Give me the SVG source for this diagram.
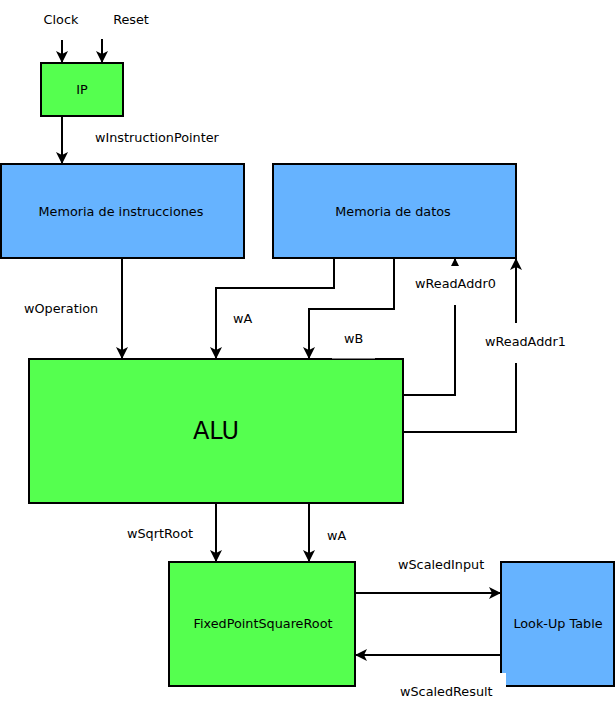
<svg xmlns="http://www.w3.org/2000/svg" width="615" height="712" viewBox="0 0 615 712">
<defs>
<marker id="ah" viewBox="0 0 12 12" refX="11" refY="6" markerWidth="12" markerHeight="12" markerUnits="userSpaceOnUse" orient="auto">
<path d="M0,0 L12,6 L0,12 L3,6 Z" fill="#000"/>
</marker>
</defs>
<style>
text{font-family:"DejaVu Sans","Liberation Sans",sans-serif;font-size:12.8px;fill:#000}
.c{text-anchor:middle}
.g{fill:#55ff4f;stroke:#000;stroke-width:2}
.b{fill:#66b3ff;stroke:#000;stroke-width:2}
.w{fill:none;stroke:#000;stroke-width:2;marker-end:url(#ah)}
.bg{fill:#fff;stroke:none}
</style>
<rect width="615" height="712" fill="#fff"/>
<g id="nodes">
<g id="ip"><rect class="g" x="41" y="63" width="82" height="53"/><text class="c" x="82" y="94">IP</text></g>
<g id="meminst"><rect class="b" x="1" y="164" width="243" height="94"/><text class="c" x="121" y="216">Memoria de instrucciones</text></g>
<g id="memdat"><rect class="b" x="273" y="164" width="243" height="94"/><text class="c" x="393" y="216">Memoria de datos</text></g>
<g id="alu"><rect class="g" x="29" y="359" width="374" height="144"/><text class="c" x="216" y="439" style="font-size:24px">ALU</text></g>
<g id="fpsr"><rect class="g" x="169" y="562" width="186" height="124"/><text class="c" x="263" y="628">FixedPointSquareRoot</text></g>
<g id="lut"><rect class="b" x="501" y="562" width="113" height="124"/><text class="c" x="558" y="628">Look-Up Table</text></g>
</g>
<g id="connectors">
<path class="w" d="M62,40 V62"/>
<path class="w" d="M102,39 V62"/>
<path class="w" d="M62,116 V163"/>
<path class="w" d="M122,258 V358"/>
<path class="w" d="M334,258 V288 H216 V358"/>
<path class="w" d="M394,258 V309 H309 V358"/>
<path class="w" d="M403,395 H455 V259"/>
<path class="w" d="M403,432 H516 V259"/>
<path class="w" d="M216,503 V561"/>
<path class="w" d="M309,503 V561"/>
<path class="w" d="M355,593 H500"/>
<path class="w" d="M501,655 H356"/>
</g>
<g id="labels">
<text class="c" x="61" y="24">Clock</text>
<text class="c" x="131" y="24">Reset</text>
<text x="95" y="142">wInstructionPointer</text>
<text x="24" y="313">wOperation</text>
<text x="233" y="323">wA</text>
<rect class="bg" x="332" y="327" width="43" height="31.5"/>
<text x="344" y="343">wB</text>
<rect class="bg" x="413" y="266" width="86" height="39"/>
<text x="415" y="288">wReadAddr0</text>
<rect class="bg" x="483" y="323" width="84" height="40"/>
<text x="485" y="346">wReadAddr1</text>
<text x="127" y="538">wSqrtRoot</text>
<text x="327" y="540">wA</text>
<text x="398" y="569">wScaledInput</text>
<rect class="bg" x="396" y="673" width="110" height="39"/>
<text x="400" y="696">wScaledResult</text>
</g>
</svg>
